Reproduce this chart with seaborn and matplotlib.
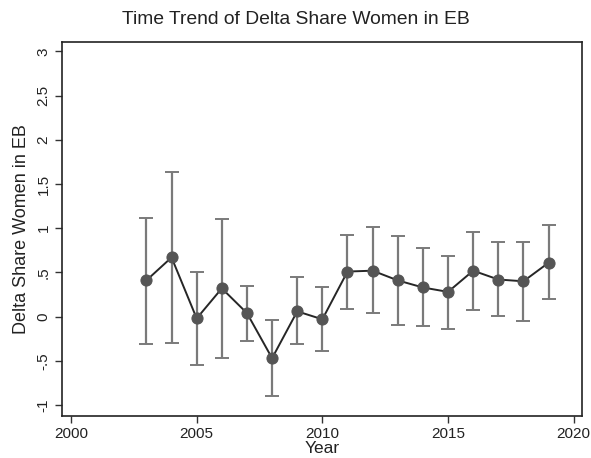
import matplotlib
matplotlib.use("Agg")
import matplotlib.pyplot as plt
import seaborn as sns
import pandas as pd

sns.set_style("white")
plt.rcParams["font.family"] = ["Liberation Sans", "DejaVu Sans"]

years = [2003, 2004, 2005, 2006, 2007, 2008, 2009, 2010, 2011,
         2012, 2013, 2014, 2015, 2016, 2017, 2018, 2019]
estimate = [0.41, 0.67, -0.02, 0.32, 0.04, -0.47, 0.06, -0.03, 0.51,
            0.52, 0.41, 0.33, 0.28, 0.52, 0.42, 0.40, 0.61]
ci_low = [-0.305, -0.30, -0.55, -0.47, -0.27, -0.90, -0.305, -0.39, 0.09,
          0.04, -0.09, -0.11, -0.14, 0.08, 0.01, -0.05, 0.20]
ci_high = [1.12, 1.64, 0.51, 1.11, 0.35, -0.04, 0.45, 0.34, 0.92,
           1.01, 0.91, 0.78, 0.69, 0.96, 0.84, 0.84, 1.04]

x_ticks = [2000, 2005, 2010, 2015, 2020]
y_ticks = [-1, -0.5, 0, 0.5, 1, 1.5, 2, 2.5, 3]
y_tick_labels = ["-1", "-.5", "0", ".5", "1", "1.5", "2", "2.5", "3"]

df = pd.DataFrame({"Year": years, "est": estimate, "lo": ci_low, "hi": ci_high})

fig = plt.figure(figsize=(5.91, 4.58), dpi=100)
ax = fig.add_axes([0.1044, 0.0924, 0.8804, 0.8166])

# confidence intervals with caps
ax.errorbar(df["Year"], df["est"],
            yerr=[df["est"] - df["lo"], df["hi"] - df["est"]],
            fmt="none", ecolor="#7a7a7a", elinewidth=1.6, capsize=5,
            capthick=1.4, zorder=1)

# connected point estimates
sns.lineplot(data=df, x="Year", y="est", ax=ax, color="#262626",
             linewidth=1.4, marker="o", markersize=8,
             markerfacecolor="#555555", markeredgecolor="#555555", zorder=3)

ax.set_xlim(1999.63, 2020.33)
ax.set_ylim(-1.12, 3.11)
ax.set_xticks(x_ticks)
ax.set_xticklabels([str(t) for t in x_ticks])
ax.set_yticks(y_ticks)
ax.set_yticklabels(y_tick_labels, rotation=90, va="center")

ax.tick_params(axis="both", which="major", direction="out", length=5,
               width=1, color="#333333", labelsize=11, labelcolor="#222222",
               bottom=True, left=True, pad=3)
for side in ["left", "bottom", "top", "right"]:
    ax.spines[side].set_visible(True)
    ax.spines[side].set_color("#222222")
    ax.spines[side].set_linewidth(1.2)

ax.set_xlabel("Year", fontsize=12.5, color="#222222", labelpad=0)
ax.set_ylabel("Delta Share Women in EB", fontsize=13, color="#222222", labelpad=5)
fig.text(0.5, 1 - 20 / 458, "Time Trend of Delta Share Women in EB",
         ha="center", va="center", fontsize=13.9, color="#222222")

fig.savefig("out.png", dpi=100, facecolor="white")
